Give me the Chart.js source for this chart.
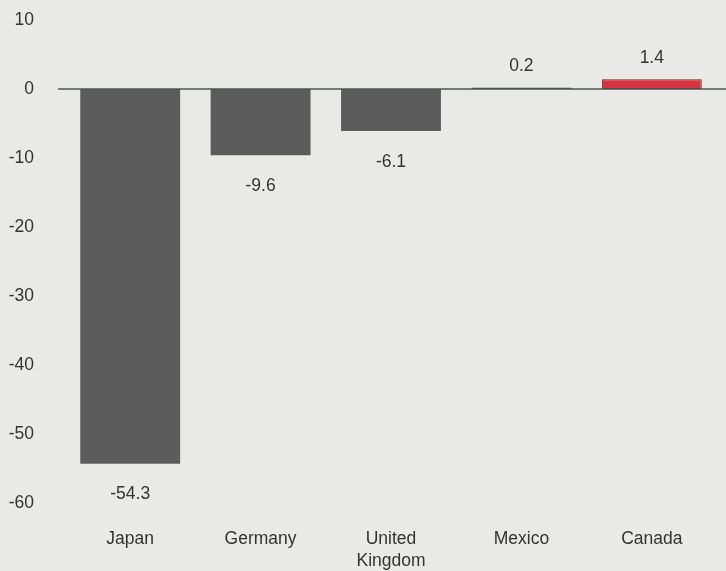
<!DOCTYPE html>
<html>
<head>
<meta charset="utf-8">
<script src="https://cdn.jsdelivr.net/npm/chart.js@4.4.0/dist/chart.umd.min.js"></script>
<style>
html,body{margin:0;padding:0;background:#e9e9e7;}
#wrap{width:726px;height:571px;position:relative;}
</style>
</head>
<body>
<div id="wrap"><canvas id="c"></canvas></div>
<script>
const categories = ["Japan", "Germany", ["United", "Kingdom"], "Mexico", "Canada"];
const values = [-54.3, -9.6, -6.1, 0.2, 1.4];
const valueLabels = ["-54.3", "-9.6", "-6.1", "0.2", "1.4"];
const yTicks = [10, 0, -10, -20, -30, -40, -50, -60];

const fillColors = ["#5c5c5c", "#5c5c5c", "#5c5c5c", "#555555", "#d8343f"];
const borderColors = ["#5c5c5c", "#5c5c5c", "#5c5c5c", "#444444", "#5a3030"];

const FONT = "'Liberation Sans', Arial, Helvetica, sans-serif";
const FSIZE = 17.5;

const zeroLine = {
  id: 'zeroLine',
  afterDatasetsDraw(chart) {
    const {ctx, chartArea, scales} = chart;
    const y = scales.y.getPixelForValue(0);
    ctx.save();
    ctx.strokeStyle = '#4d5651';
    ctx.lineWidth = 1.6;
    ctx.beginPath();
    ctx.moveTo(chartArea.left - 7, y);
    ctx.lineTo(chart.width, y);
    ctx.stroke();
    ctx.restore();
  }
};

const valueLabelPlugin = {
  id: 'valueLabels',
  afterDatasetsDraw(chart) {
    const {ctx} = chart;
    const meta = chart.getDatasetMeta(0);
    ctx.save();
    ctx.font = FSIZE + "px " + FONT;
    ctx.fillStyle = '#333333';
    ctx.textAlign = 'center';
    ctx.textBaseline = 'middle';
    meta.data.forEach((bar, i) => {
      const v = values[i];
      const yy = v < 0 ? bar.y + 31 : bar.y - 21;
      ctx.fillText(valueLabels[i], bar.x, yy);
    });
    ctx.restore();
  }
};

new Chart(document.getElementById('c'), {
  type: 'bar',
  data: {
    labels: categories,
    datasets: [{
      data: values,
      backgroundColor: fillColors,
      borderColor: borderColors,
      borderWidth: [0, 0, 0, 1, 1],
      borderSkipped: false,
      categoryPercentage: 1.0,
      barPercentage: 0.766
    }]
  },
  options: {
    responsive: true,
    maintainAspectRatio: false,
    animation: false,
    layout: { padding: { top: 0, right: 9, bottom: 0, left: 0 } },
    plugins: { legend: { display: false }, tooltip: { enabled: false } },
    scales: {
      x: {
        grid: { display: false },
        border: { display: false },
        afterFit(scale) { scale.height = 68; },
        ticks: {
          color: '#333333',
          font: { family: FONT, size: FSIZE, lineHeight: 1.28 },
          padding: 17,
          maxRotation: 0,
          autoSkip: false
        }
      },
      y: {
        min: -60,
        max: 10,
        afterBuildTicks(scale) { scale.ticks = yTicks.map(v => ({ value: v })); },
        afterFit(scale) { scale.width = 65; scale.paddingTop = 20; scale.paddingBottom = 0; },
        grid: { display: false },
        border: { display: false },
        ticks: {
          color: '#333333',
          font: { family: FONT, size: FSIZE },
          padding: 23,
          callback: v => String(v)
        }
      }
    }
  },
  plugins: [zeroLine, valueLabelPlugin]
});
</script>
</body>
</html>
